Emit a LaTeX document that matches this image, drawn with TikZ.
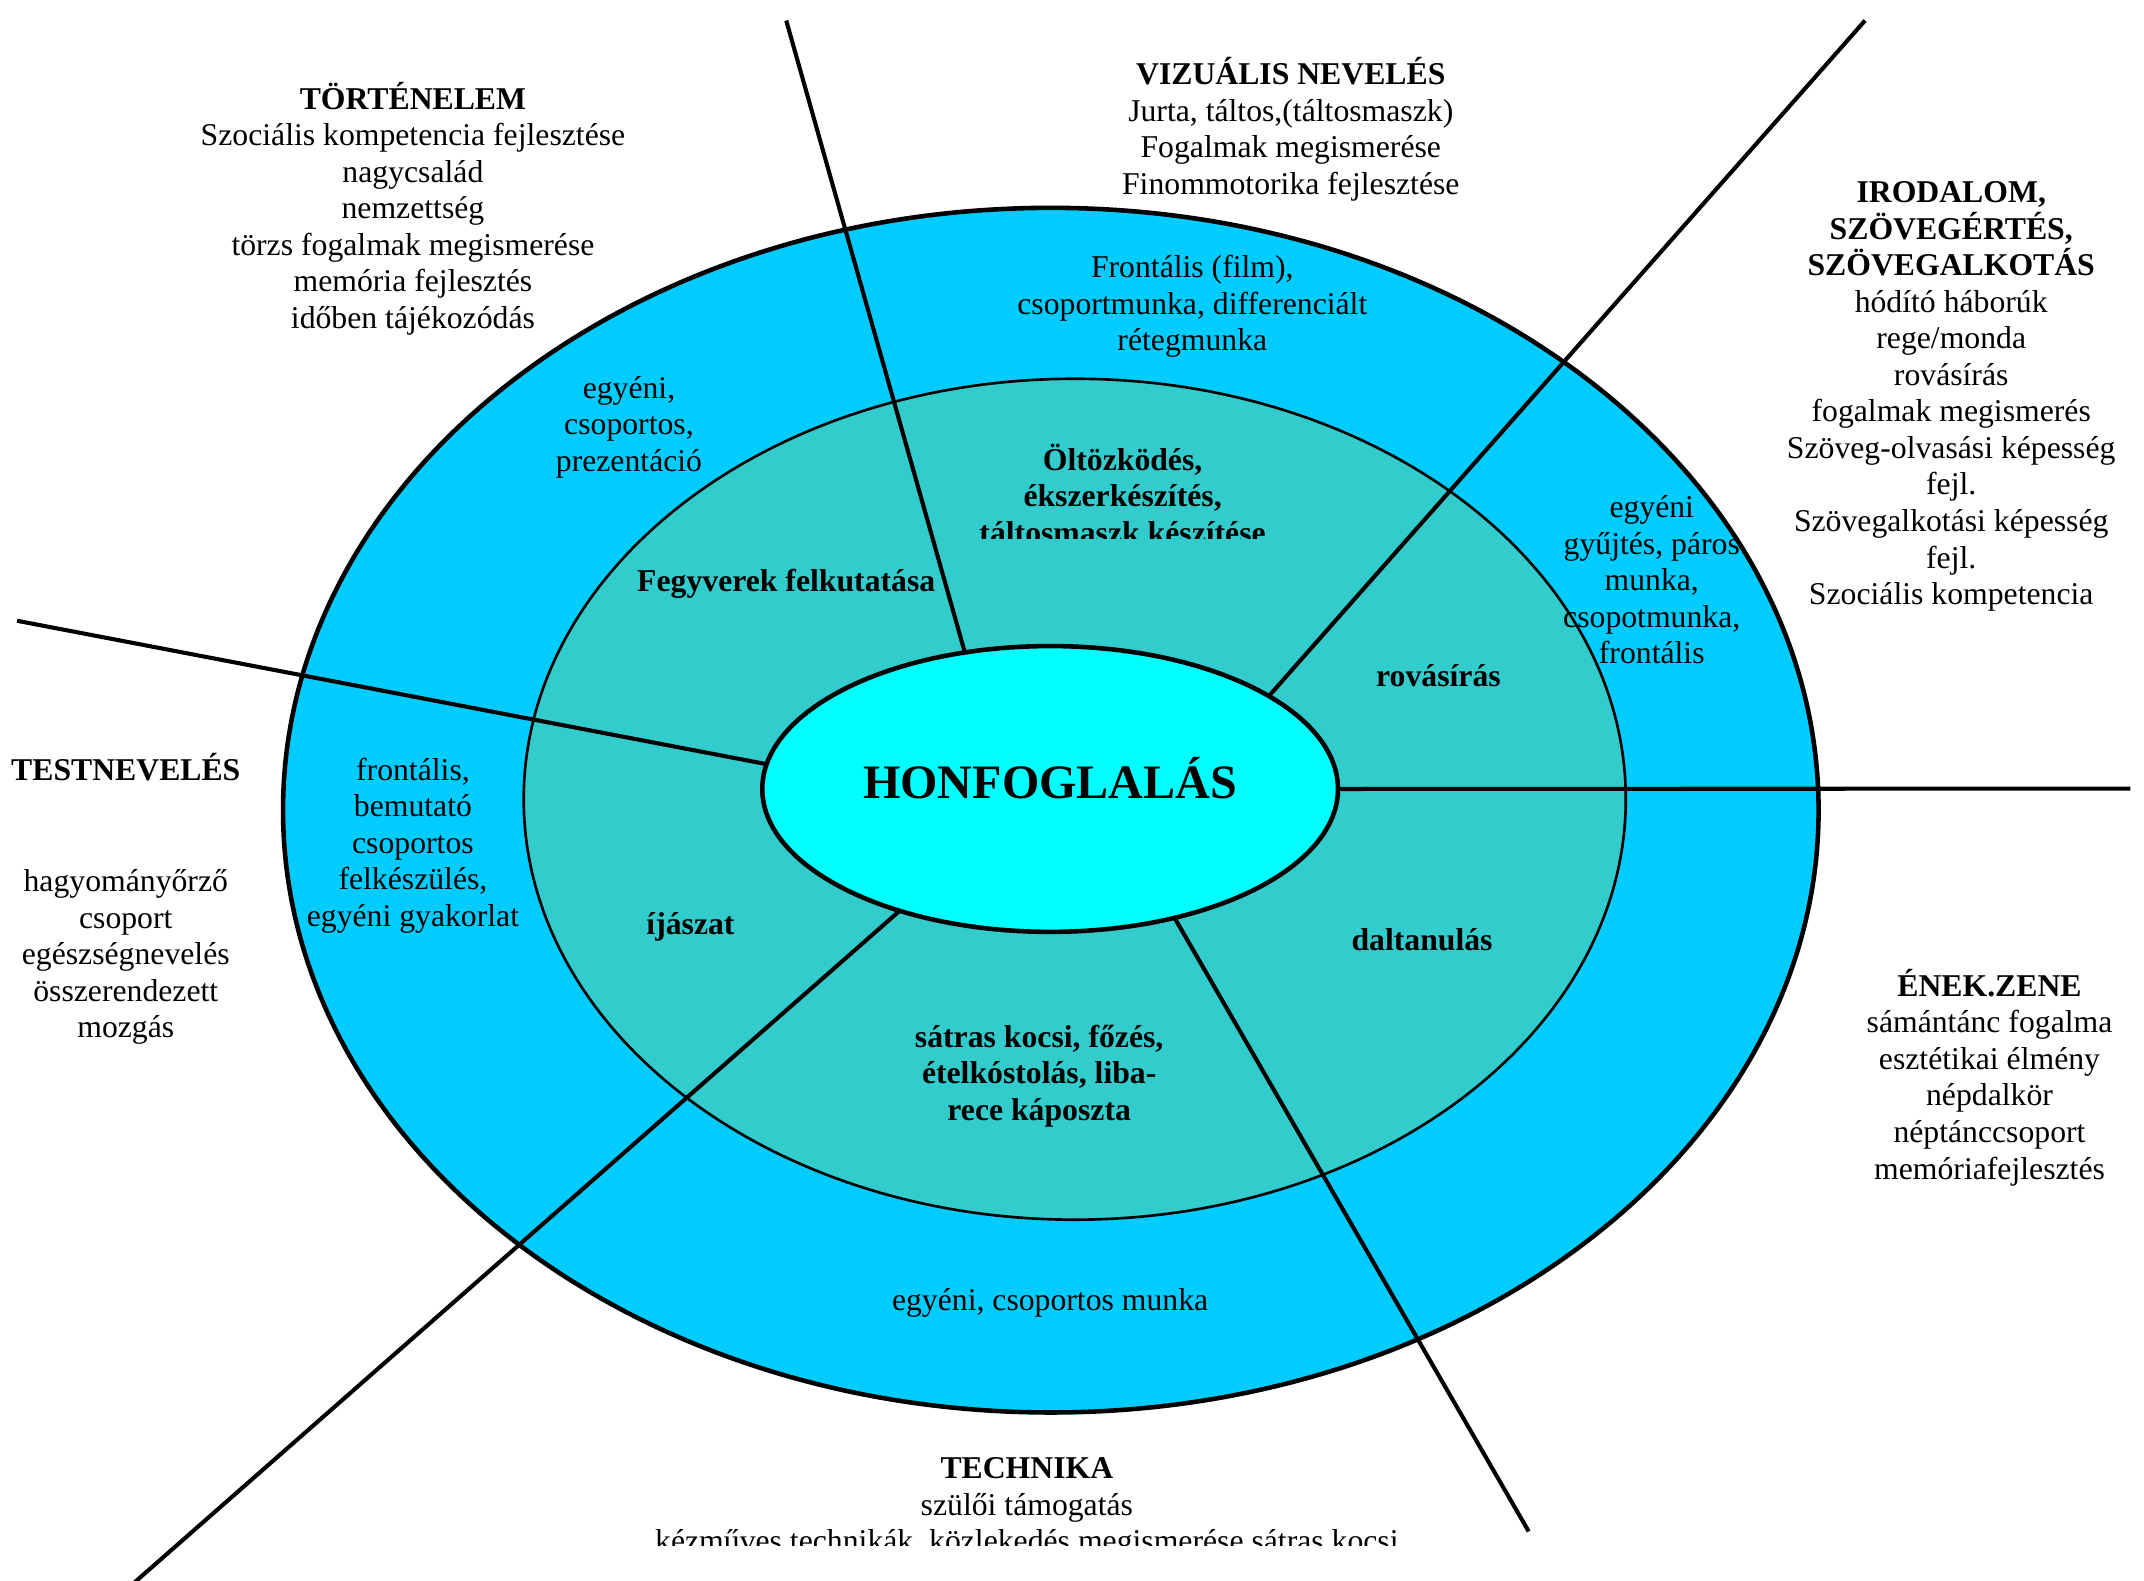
\documentclass[tikz,border=0pt]{standalone}
\usepackage{fontspec}
\setmainfont{Liberation Serif}
\usetikzlibrary{shapes.geometric}
\definecolor{outerring}{RGB}{0,204,255}
\definecolor{midring}{RGB}{51,204,204}
\definecolor{hubfill}{RGB}{0,255,255}

\begin{document}
\begin{tikzpicture}[x=0.2mm, y=-0.2mm,
        lbl/.style={align=center, inner sep=0pt, font=\fontsize{13.2}{15.2}\selectfont},
        blbl/.style={lbl, font=\fontsize{13.2}{15.2}\selectfont\bfseries},
        divider/.style={line width=1.7pt}]
        \useasboundingbox (0,0) rectangle (1568,1156);

        % rings
        \draw[line width=1.9pt, fill=outerring] (768.5,592.5) ellipse [x radius=561.5, y radius=440.5];
        \draw[line width=1.1pt, fill=midring]   (786,584.5) ellipse [x radius=403, y radius=307.5];

        \node[ellipse, draw, line width=1.9pt, fill=hubfill, minimum width=84.2mm, minimum height=41.8mm,
              inner sep=0pt, outer sep=0pt, font=\fontsize{20}{24}\selectfont\bfseries,
              text height=0.78em, text depth=0pt] (hub) at (768,577) {HONFOGLALÁS};

        % draw dividers
        \coordinate (t1) at (575,15);
        \coordinate (t2) at (1364,15);
        \coordinate (t3) at (1558,576.7);
        \coordinate (t4) at (1118,1120);
        \coordinate (t5) at (93,1162);
        \coordinate (t6) at (12.5,454);

        \draw[divider] (hub.122.5) -- (t1);
        \draw[divider] (hub.23.5)  -- (t2);
        \draw[divider] (hub.0)     -- (t3);
        \draw[divider] (hub.314.1) -- (t4);
        \draw[divider] (hub.219.8) -- (t5);
        \draw[divider] (hub.175.4) -- (t6);

        % subjects
        \node[lbl] (tort) at (302,152.5) {\textbf{TÖRTÉNELEM}\\Szociális kompetencia fejlesztése\\nagycsalád\\nemzettség\\törzs fogalmak megismerése\\memória fejlesztés\\időben tájékozódás};
        \node[lbl] (vizu) at (944,94.5) {\textbf{VIZUÁLIS NEVELÉS}\\Jurta, táltos,(táltosmaszk)\\Fogalmak megismerése\\Finommotorika fejlesztése};
        \node[lbl] (irod) at (1427,290) {\textbf{IRODALOM,}\\\textbf{SZÖVEGÉRTÉS,}\\\textbf{SZÖVEGALKOTÁS}\\hódító háborúk\\rege/monda\\rovásírás\\fogalmak megismerés\\Szöveg-olvasási képesség\\fejl.\\Szövegalkotási képesség\\fejl.\\Szociális kompetencia};
        \node[blbl] (test) at (92,561) {TESTNEVELÉS};
        \node[lbl] (testl) at (92,700) {hagyományőrző\\csoport\\egészségnevelés\\összerendezett\\mozgás};
        \node[lbl] (enek) at (1455,788) {\textbf{ÉNEK.ZENE}\\sámántánc fogalma\\esztétikai élmény\\népdalkör\\néptánccsoport\\memóriafejlesztés};
        \begin{scope}
            \clip (0,0) rectangle (1568,1130.5);
            \node[lbl] (tech) at (751,1103) {\textbf{TECHNIKA}\\szülői támogatás\\kézműves technikák, közlekedés megismerése sátras kocsi};
        \end{scope}

        % outer ring
        \node[lbl] (o1) at (460,312.5) {egyéni,\\csoportos,\\prezentáció};
        \node[lbl] (o2) at (872,224) {Frontális (film),\\csoportmunka, differenciált\\rétegmunka};
        \node[lbl] (o3) at (1208,424) {egyéni\\gyűjtés, páros\\munka,\\csopotmunka,\\frontális};
        \node[lbl] (o4) at (302,618.5) {frontális,\\bemutató\\csoportos\\felkészülés,\\egyéni gyakorlat};
        \node[lbl] (o5) at (768,953) {egyéni, csoportos munka};

        % middle ring
        \node[blbl] (m1) at (575,427) {Fegyverek felkutatása};
        \begin{scope}
            \clip (0,0) rectangle (1568,393.5);
            \node[blbl] (m2) at (821,361) {Öltözködés,\\ékszerkészítés,\\táltosmaszk készítése};
        \end{scope}
        \node[blbl] (m3) at (1052,494) {rovásírás};
        \node[blbl] (m4) at (505,678) {íjászat};
        \node[blbl] (m5) at (1040,687) {daltanulás};
        \node[blbl] (m6) at (760,787) {sátras kocsi, főzés,\\ételkóstolás, liba-\\rece káposzta};

    \end{tikzpicture}
\end{document}
